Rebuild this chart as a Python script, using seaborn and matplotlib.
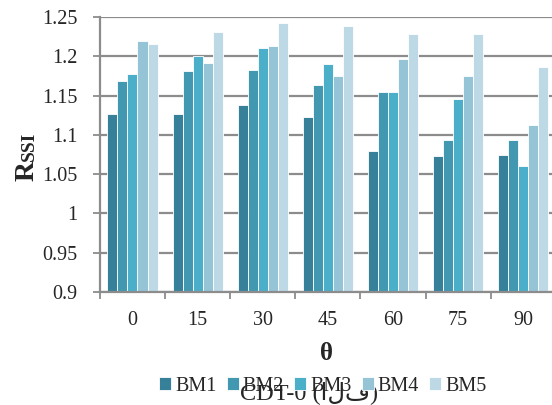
import numpy as np
import pandas as pd
import seaborn as sns
import matplotlib.pyplot as plt

# data
angles = ['0', '15', '30', '45', '60', '75', '90']
series = ['BM1', 'BM2', 'BM3', 'BM4', 'BM5']
bm1 = [1.126, 1.127, 1.138, 1.123, 1.080, 1.073, 1.075]
bm2 = [1.168, 1.181, 1.182, 1.164, 1.155, 1.093, 1.094]
bm3 = [1.178, 1.201, 1.211, 1.190, 1.155, 1.146, 1.060]
bm4 = [1.220, 1.192, 1.213, 1.175, 1.197, 1.175, 1.113]
bm5 = [1.216, 1.231, 1.242, 1.238, 1.229, 1.228, 1.186]
yticks = [0.9, 0.95, 1, 1.05, 1.1, 1.15, 1.2, 1.25]
colors = ['#36809a', '#4298b0', '#4bafc9', '#94c4d6', '#bdd9e5']

df = pd.DataFrame({'angle': angles * 5,
                   'series': np.repeat(series, len(angles)),
                   'value': bm1 + bm2 + bm3 + bm4 + bm5})

sns.set_style('white')
plt.rcParams['font.family'] = ['Liberation Serif', 'DejaVu Sans']

fig = plt.figure(figsize=(5.52, 4.05), dpi=100)
ax = fig.add_axes([0.181, 0.279, 0.826, 0.679])

sns.barplot(data=df, x='angle', y='value', hue='series', palette=colors,
            width=0.77, edgecolor='white', linewidth=0.6, saturation=1,
            errorbar=None, ax=ax)

ax.set_ylim(0.9, 1.25)
ax.set_xlim(-0.5, len(angles) - 0.5)
ax.set_yticks(yticks)
ax.set_yticklabels(['0.9', '0.95', '1', '1.05', '1.1', '1.15', '1.2', '1.25'])
ax.yaxis.grid(True, color='#8c8c8c', linewidth=1.6)
ax.set_axisbelow(True)

# ticks between groups, labels at group centers
ax.set_xticks(np.arange(len(angles)) - 0.5, minor=False)
ax.set_xticklabels([''] * len(angles))
ax.set_xticks(np.arange(len(angles)), minor=True)
ax.set_xticklabels(angles, minor=True)
ax.tick_params(axis='x', which='major', length=5, width=1.3, color='#8c8c8c', direction='out', bottom=True)
ax.tick_params(axis='x', which='minor', length=0, pad=14, labelsize=14.5)
ax.tick_params(axis='y', length=5, width=1.3, color='#8c8c8c', direction='out', left=True,
               pad=11, labelsize=14.5)

for s in ['top', 'right']:
    ax.spines[s].set_visible(False)
for s in ['left', 'bottom']:
    ax.spines[s].set_color('#8c8c8c')
    ax.spines[s].set_linewidth(1.6)

ax.set_xlabel('')
ax.set_ylabel('')
fig.text(0.592, 0.128, 'θ', ha='center', va='center', fontsize=18, fontweight='bold')

# y label: R with smaller SSI
fig.canvas.draw()
renderer = fig.canvas.get_renderer()
r = fig.text(0.061, 0.552, 'R', rotation=90, rotation_mode='anchor',
             ha='left', va='baseline', fontsize=20, fontweight='bold')
h = r.get_window_extent(renderer).height / fig.bbox.height
fig.text(0.061, 0.552 + h, 'SSI', rotation=90, rotation_mode='anchor',
         ha='left', va='baseline', fontsize=14, fontweight='bold')

handles, labels = ax.get_legend_handles_labels()
ax.get_legend().remove()
fig.legend(handles, labels, loc='center', bbox_to_anchor=(0.585, 0.046), ncol=5,
           frameon=False, fontsize=14.5, handlelength=0.6, handleheight=0.6,
           handletextpad=0.2, columnspacing=0.5)

fig.text(0.56, 0.03, 'CDT-0 (الف)', ha='center', va='center', fontsize=17.5)

fig.savefig('out.png', dpi=100)
